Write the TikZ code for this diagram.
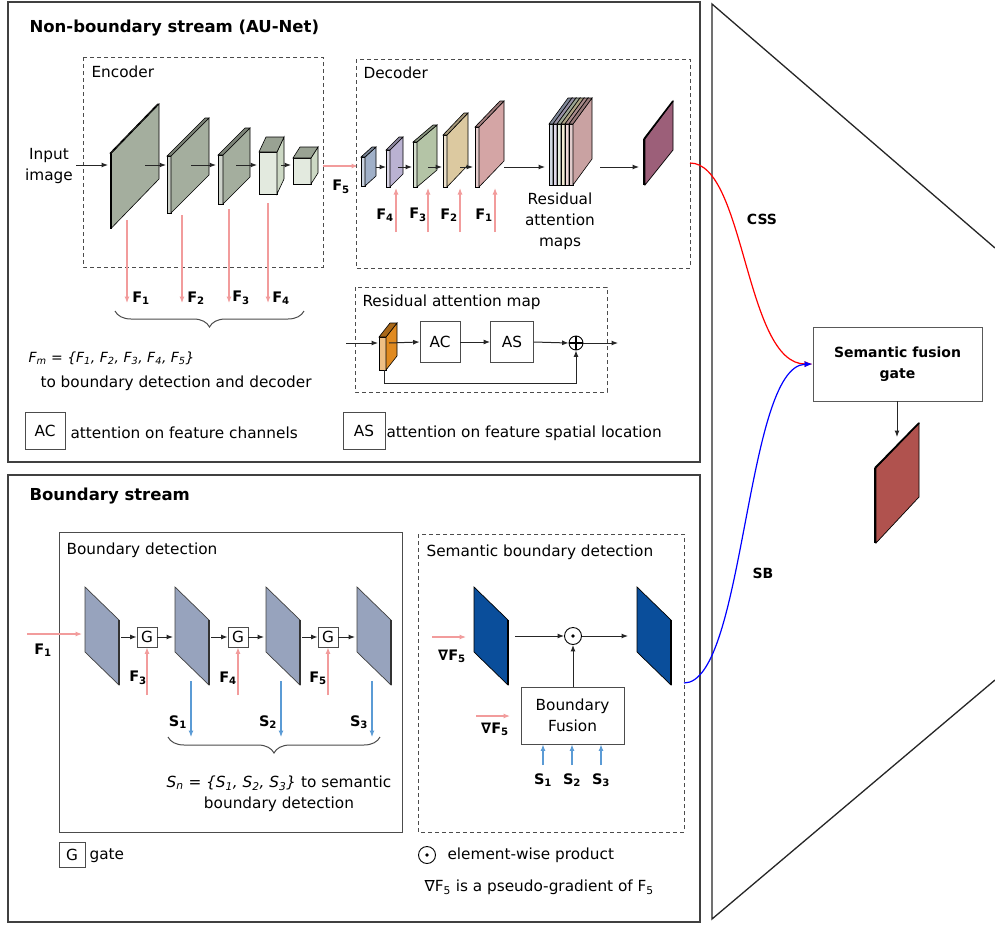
\documentclass[tikz,border=0pt]{standalone}
\usepackage{fontspec}
\setmainfont{DejaVu Sans}
\usetikzlibrary{arrows.meta,decorations.pathreplacing,calc}
\definecolor{pinkar}{HTML}{F29C9C}
\definecolor{bluear}{HTML}{5B9BD5}
\definecolor{encg}{HTML}{A4AE9E}
\definecolor{encl}{HTML}{CCD8C4}
\definecolor{bdmap}{HTML}{97A3BD}
\definecolor{sbmap}{HTML}{0A4E9B}
\definecolor{dA}{HTML}{A0B0C8}
\definecolor{dB}{HTML}{BAB2D2}
\definecolor{dC}{HTML}{B4C4A6}
\definecolor{dD}{HTML}{DCC9A0}
\definecolor{dE}{HTML}{D4A5A5}
\definecolor{sA}{HTML}{AAB6CC}
\definecolor{sB}{HTML}{C8C0DC}
\definecolor{sC}{HTML}{D0DCC4}
\definecolor{sD}{HTML}{E6D8B0}
\definecolor{sE}{HTML}{E0B8B8}
\definecolor{sF}{HTML}{C9A2A2}
\definecolor{purp}{HTML}{9C5F79}
\definecolor{orng}{HTML}{E08A20}
\definecolor{redm}{HTML}{B0524E}
\newcommand\slab[7]{%
  \filldraw[draw=black,line width=0.6pt,fill=#7!55!white] (#1,#2) rectangle ({#1+#4},#3);
  \filldraw[draw=black,line width=0.6pt,fill=#7] ({#1+#4},#2) -- (#5,{#2-#6}) -- (#5,{#3-#6}) -- ({#1+#4},#3) -- cycle;
  \filldraw[draw=black,line width=0.6pt,fill=#7!75!black] (#1,#2) -- ({#1+#4},#2) -- (#5,{#2-#6}) -- ({#5-#4},{#2-#6}) -- cycle;}
\newcommand\bmap[2]{%
  \filldraw[draw=black!75,line width=0.7pt,fill=#2] (#1,587) -- ({#1+34},620) -- ({#1+34},685) -- (#1,652) -- cycle;
  \draw[black!80,line width=1.8pt] ({#1+34},620) -- ({#1+34},685);}
\newcommand\Fb[2]{\textbf{#1}\textsubscript{\bfseries #2}}
\begin{document}
\begin{tikzpicture}[x=1pt,y=-1pt,
  body/.style={font=\fontsize{15.3}{21}\selectfont},
  lab/.style={font=\fontsize{14.5}{14}\selectfont},
  frame/.style={draw=black!75,line width=1.6pt},
  dbox/.style={draw=black!70,line width=0.9pt,dash pattern=on 4pt off 3pt},
  sbox/.style={draw=black!70,line width=0.9pt},
  arr/.style={-{Latex[length=6.5pt,width=5pt]},black!85,line width=1pt},
  parr/.style={-{Latex[length=6.5pt,width=5pt]},pinkar,line width=1.1pt},
  barr/.style={-{Latex[length=6.5pt,width=5pt]},bluear,line width=1.1pt},
  opbox/.style={draw=black!70,line width=0.8pt,fill=white,inner sep=0pt},
  brc/.style={decorate,decoration={brace,mirror,amplitude=16pt,aspect=0.5},draw=black!70,line width=1pt}]
\useasboundingbox (0,0) rectangle (995,926);
\fill[white] (0,0) rectangle (995,926);
% frames
\draw[frame] (8,2) rectangle (700,462);
\draw[frame] (8,475) rectangle (700,922);
\draw[black!85,line width=1.3pt] (995,248) -- (712,4) -- (712,919) -- (995,680);
% titles
\node[anchor=west,font=\fontsize{16.5}{18}\selectfont\bfseries] (t1) at (26,28) {Non-boundary stream (AU-Net)};
\node[anchor=west,font=\fontsize{16.5}{18}\selectfont\bfseries] (t2) at (26,496) {Boundary stream};
% ---------- Encoder
\draw[dbox] (83,57) rectangle (323,267);
\node[body,anchor=west] (enc) at (88,72) {Encoder};
\node[body,align=center] (inp) at (49,166) {Input\\image};
\slab{110}{153}{228}{1.5}{159}{49}{encg}
\slab{167}{156}{213}{4}{209}{38}{encg}
\slab{218}{155}{204}{5}{250}{27}{encg}
\slab{259}{152}{194}{18}{284}{15}{encl}
\slab{293}{158}{184}{18}{318}{11}{encl}
\coordinate (m1l) at (108,165);
\coordinate (m1r) at (145,165); \coordinate (m2l) at (166,165);
\coordinate (m2r) at (191,165); \coordinate (m3l) at (216,165);
\coordinate (m3r) at (236,165); \coordinate (m4l) at (257,165);
\coordinate (m4r) at (281,165); \coordinate (m5l) at (291,165);
\draw[arr] (inp.east |- m1l) -- (m1l);
\draw[arr] (m1r) -- (m2l);
\draw[arr] (m2r) -- (m3l);
\draw[arr] (m3r) -- (m4l);
\draw[arr] (m4r) -- (m5l);
\coordinate (e5) at (323,166); \coordinate (d0) at (358,166);
\draw[parr] (e5) -- (d0);
\node[lab] (lf5) at (341,187) {\Fb{F}{5}};
% down arrows F1..F4
\foreach \x/\ys/\n in {127/220/1,182/215/2,229/209/3,268/203/4}{
  \coordinate (fs\n) at (\x,\ys); \coordinate (fe\n) at (\x,303);
  \draw[parr] (fs\n) -- (fe\n);}
\node[lab] (lF1) at (141,298) {\Fb{F}{1}};
\node[lab] (lF2) at (196,298) {\Fb{F}{2}};
\node[lab] (lF3) at (241,298) {\Fb{F}{3}};
\node[lab] (lF4) at (281,298) {\Fb{F}{4}};
\coordinate (b1a) at (115,311); \coordinate (b1b) at (304,311);
\draw[brc] (b1a) -- (b1b);
\node[anchor=west,font=\itshape\fontsize{14}{14}\selectfont] (fm) at (25,358) {F\textsubscript{m} = \{F\textsubscript{1}, F\textsubscript{2}, F\textsubscript{3}, F\textsubscript{4}, F\textsubscript{5}\}};
\node[body,anchor=west] (fmt) at (37,383) {to boundary detection and decoder};
% ---------- Decoder
\draw[dbox] (356,59) rectangle (690,268);
\node[body,anchor=west] (dec) at (360,73) {Decoder};
\slab{361}{157}{186}{4}{376}{10}{dA}
\slab{386}{150}{187}{4}{403}{13}{dB}
\slab{413}{142}{187}{4}{437}{17}{dC}
\slab{443}{135}{187}{4}{468}{22}{dD}
\slab{475}{127}{187}{4}{504}{26}{dE}
\foreach \i/\c in {0/sA,1/sB,2/sC,3/sD,4/sE,5/sF}{
  \slab{549+4*\i}{124}{185}{4}{572+4*\i}{26}{\c}}
\filldraw[draw=black,line width=0.7pt,fill=purp] (645,139) -- (673,101) -- (673,150) -- (645,185) -- cycle;
\draw[black,line width=2pt] (644,139) -- (644,185);
\draw[black,line width=1.6pt] (644,139) -- (673,101);
\foreach \a/\b/\n in {376/386/1,398/412/2,428/442/3,460/473/4,504/545/5,600/639/6}{
  \coordinate (da\n) at (\a,167); \coordinate (db\n) at (\b,167);
  \draw[arr] (da\n) -- (db\n);}
\foreach \x/\n in {396/4,428/3,460/2,495/1}{
  \coordinate (us\n) at (\x,232); \coordinate (ue\n) at (\x,188);
  \draw[parr] (us\n) -- (ue\n);}
\node[lab] (dF4) at (385,215) {\Fb{F}{4}};
\node[lab] (dF3) at (418,215) {\Fb{F}{3}};
\node[lab] (dF2) at (449,215) {\Fb{F}{2}};
\node[lab] (dF1) at (484,215) {\Fb{F}{1}};
\node[body,align=center] (ram) at (560,221) {Residual\\attention\\maps};
\coordinate (dout) at (690,163);
% ---------- Residual attention map
\draw[dbox] (355,287) rectangle (607,392);
\node[body,anchor=west] (rlab) at (359,302) {Residual attention map};
\slab{379}{337}{370}{7}{397}{14}{orng}
\node[opbox,body,minimum width=40pt,minimum height=41pt] (ac) at (440,342) {AC};
\node[opbox,body,minimum width=43pt,minimum height=41pt] (as) at (512,342) {AS};
\node[circle,draw=black,line width=0.9pt,minimum size=14pt,inner sep=0pt] (plus) at (576,343) {};
\draw[line width=1.2pt] (plus.north) -- (plus.south) (plus.west) -- (plus.east);
\coordinate (rin) at (346,343); \coordinate (rb) at (378,343); \coordinate (rb2) at (389,343);
\coordinate (rout) at (618,343); \coordinate (fb) at (384,370); \coordinate (fbb) at (384,383);
\draw[arr] (rin) -- (rb);
\draw[arr] (rb2) -- (ac.west);
\draw[arr] (ac.east) -- (as.west);
\draw[arr] (as.east) -- (plus.west);
\draw[arr] (plus.east) -- (rout);
\draw[arr] (fb) -- (fbb) -| (plus.south);
% legend
\node[opbox,body,minimum width=40pt,minimum height=37pt] (lac) at (45,431) {AC};
\node[body,anchor=west] (lact) at (67,433) {attention on feature channels};
\node[opbox,body,minimum width=42pt,minimum height=37pt] (las) at (364,431) {AS};
\node[body,anchor=west] (last) at (383,433) {attention on feature spatial location};
% ---------- Semantic fusion gate (right)
\node[sbox,draw=black!65,minimum width=169pt,minimum height=74pt,align=center,font=\fontsize{14}{21}\selectfont\bfseries] (sfg) at (897.5,364) {Semantic fusion\\gate};
\coordinate (rmt) at (897,437);
\draw[arr] (sfg.south -| rmt) -- (rmt);
\filldraw[draw=black,line width=0.7pt,fill=redm] (876,468) -- (919,423) -- (919,497) -- (876,543) -- cycle;
\draw[black,line width=2.2pt] (875,468) -- (875,543);
\draw[black,line width=1.8pt] (875,468) -- (919,423);
\node[font=\fontsize{14}{14}\selectfont\bfseries] (css) at (762,219) {CSS};
\node[font=\fontsize{14}{14}\selectfont\bfseries] (sb) at (763,573) {SB};
\draw[red,line width=1.2pt,-{Latex[length=8pt,width=6pt]}] (dout) .. controls (745,163) and (745,364) .. (sfg.west);
% ---------- Boundary detection
\draw[sbox] (59,532) rectangle (402,832);
\node[body,anchor=west] (bdl) at (63,550) {Boundary detection};
\bmap{85}{bdmap}
\bmap{175}{bdmap}
\bmap{266}{bdmap}
\bmap{357}{bdmap}
\node[opbox,body,minimum width=20pt,minimum height=20pt] (g1) at (147,637) {G};
\node[opbox,body,minimum width=20pt,minimum height=20pt] (g2) at (238,637) {G};
\node[opbox,body,minimum width=20pt,minimum height=20pt] (g3) at (328,637) {G};
\coordinate (ba1) at (121,637); \coordinate (bb1) at (173,637);
\coordinate (ba2) at (211,637); \coordinate (bb2) at (264,637);
\coordinate (ba3) at (302,637); \coordinate (bb3) at (355,637);
\draw[arr] (ba1) -- (g1.west); \draw[arr] (g1.east) -- (bb1);
\draw[arr] (ba2) -- (g2.west); \draw[arr] (g2.east) -- (bb2);
\draw[arr] (ba3) -- (g3.west); \draw[arr] (g3.east) -- (bb3);
\coordinate (bf1s) at (27,634); \coordinate (bf1e) at (82,634);
\draw[parr] (bf1s) -- (bf1e);
\node[lab] (bF1) at (43,650) {\Fb{F}{1}};
\coordinate (gu1) at (147,695); \coordinate (gu2) at (238,695); \coordinate (gu3) at (328,695);
\draw[parr] (gu1) -- (g1.south); \draw[parr] (gu2) -- (g2.south); \draw[parr] (gu3) -- (g3.south);
\node[lab] (bF3) at (138,678) {\Fb{F}{3}};
\node[lab] (bF4) at (228,678) {\Fb{F}{4}};
\node[lab] (bF5) at (318,678) {\Fb{F}{5}};
\foreach \x/\n in {191/1,281/2,372/3}{
  \coordinate (ss\n) at (\x,681); \coordinate (se\n) at (\x,737);
  \draw[barr] (ss\n) -- (se\n);}
\node[lab] (bS1) at (178,722) {\Fb{S}{1}};
\node[lab] (bS2) at (268,722) {\Fb{S}{2}};
\node[lab] (bS3) at (359,722) {\Fb{S}{3}};
\coordinate (b2a) at (168,737); \coordinate (b2b) at (380,737);
\draw[brc] (b2a) -- (b2b);
\node[body,align=center] (sn) at (279,794) {\textit{S\textsubscript{n} = \{S\textsubscript{1}, S\textsubscript{2}, S\textsubscript{3}\}} to semantic\\boundary detection};
\node[opbox,body,minimum width=26pt,minimum height=25pt] (lg) at (72,855) {G};
\node[body,anchor=west] (lgt) at (86,856) {gate};
% ---------- Semantic boundary detection
\draw[dbox] (418,534) rectangle (684,832);
\node[body,anchor=west] (sbl) at (423,552) {Semantic boundary detection};
\filldraw[draw=black,line width=0.7pt,fill=sbmap] (474,587) -- (508,620) -- (508,685) -- (474,652) -- cycle;
\draw[black,line width=1.8pt] (508,620) -- (508,685);
\filldraw[draw=black,line width=0.7pt,fill=sbmap] (637,587) -- (671,620) -- (671,685) -- (637,652) -- cycle;
\draw[black,line width=1.8pt] (671,620) -- (671,685);
\node[circle,draw=black,line width=0.9pt,minimum size=17pt,inner sep=0pt] (od) at (573,636) {};
\fill (od.center) circle (1.8pt);
\coordinate (sl) at (515,636); \coordinate (sr) at (628,636);
\draw[arr] (sl) -- (od.west);
\draw[arr] (od.east) -- (sr);
\coordinate (gp1s) at (432,637); \coordinate (gp1e) at (466,637);
\draw[parr] (gp1s) -- (gp1e);
\node[lab] (gF1) at (452,656) {\Fb{∇F}{5}};
\node[sbox,body,minimum width=103pt,minimum height=57pt,align=center] (bfu) at (572.5,715.5) {Boundary\\Fusion};
\draw[arr] (bfu.north -| od) -- (od.south);
\coordinate (gp2s) at (476,716); \coordinate (gp2e) at (510,716);
\draw[parr] (gp2s) -- (gp2e);
\node[lab] (gF2) at (495,729) {\Fb{∇F}{5}};
\foreach \x/\n in {543/1,572/2,601/3}{
  \coordinate (fu\n) at (\x,765);
  \draw[barr] (fu\n) -- (fu\n |- bfu.south);
  \node[lab] (fS\n) at (\x,780) {\Fb{S}{\n}};}
\node[circle,draw=black,line width=0.9pt,minimum size=17pt,inner sep=0pt] (lod) at (427,855) {};
\fill (lod.center) circle (1.8pt);
\node[body,anchor=west] (lodt) at (444,855) {element-wise product};
\node[body,anchor=west] (lnab) at (421,887) {∇F\textsubscript{5} is a pseudo-gradient of F\textsubscript{5}};
\draw[blue,line width=1.2pt,-{Latex[length=8pt,width=6pt]}] (684,683) .. controls (745,683) and (745,366) .. (sfg.west);
\end{tikzpicture}
\end{document}
